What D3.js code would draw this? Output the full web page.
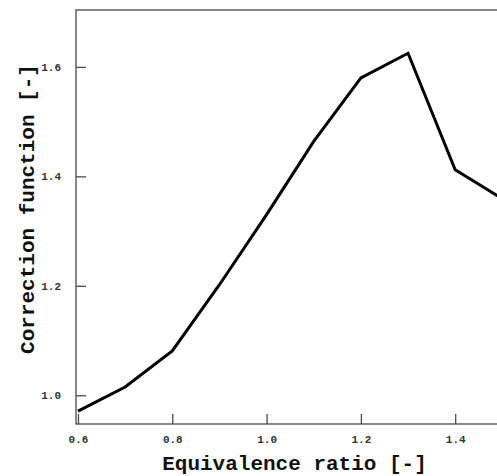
<!DOCTYPE html>
<html><head><meta charset="utf-8">
<script src="https://cdn.jsdelivr.net/npm/d3@7"></script>
<style>body{margin:0;background:#fff}svg{display:block}</style>
</head><body>
<script>
const phi = [0.6, 0.7, 0.8, 0.9, 1.0, 1.1, 1.2, 1.3, 1.4, 1.5];
const corr = [0.971, 1.015, 1.081, 1.202, 1.330, 1.464, 1.580, 1.625, 1.412, 1.359];
const xTicks = [0.6, 0.8, 1.0, 1.2, 1.4];
const yTicks = [1.0, 1.2, 1.4, 1.6];

const W = 497, H = 476;
const mL = 76, mR = 513, mT = 10, mB = 424;
const svg = d3.select("body").append("svg").attr("width", W).attr("height", H);
const x = d3.scaleLinear().domain([0.5958, 1.5226]).range([mL, mR]);
const y = d3.scaleLinear().domain([0.9475, 1.704]).range([mB, mT]);
const font = "'Liberation Mono','Courier New',monospace";

// frame
svg.append("rect").attr("x", mL).attr("y", mT).attr("width", mR-mL).attr("height", mB-mT)
  .attr("fill", "none").attr("stroke", "#4a4a4a").attr("stroke-width", 1.3);

const xa = svg.append("g").attr("transform", `translate(0,${mB})`)
  .call(d3.axisBottom(x).tickValues(xTicks).tickSizeInner(-10).tickSizeOuter(0).tickPadding(11).tickFormat(d3.format(".1f")));
const ya = svg.append("g").attr("transform", `translate(${mL},0)`)
  .call(d3.axisLeft(y).tickValues(yTicks).tickSizeInner(-10).tickSizeOuter(0).tickPadding(15).tickFormat(d3.format(".1f")));
[xa, ya].forEach(a => {
  a.select(".domain").remove();
  a.selectAll(".tick line").attr("stroke", "#4a4a4a").attr("stroke-width", 1.3);
  a.selectAll(".tick text").attr("font-family", font).attr("font-weight", "bold").attr("font-size", 11).attr("fill", "#333");
});

const line = d3.line().x((d,i) => x(phi[i])).y(d => y(d));
svg.append("path").datum(corr).attr("d", line).attr("fill", "none")
  .attr("stroke", "#000").attr("stroke-width", 3).attr("stroke-linejoin", "miter");

svg.append("text").attr("x", (mL+mR)/2).attr("y", 470).attr("text-anchor", "middle")
  .attr("font-family", font).attr("font-weight", "bold").attr("font-size", 21).attr("fill", "#111")
  .text("Equivalence ratio [-]");
svg.append("text").attr("transform", `translate(34,209) rotate(-90)`).attr("text-anchor", "middle")
  .attr("font-family", font).attr("font-weight", "bold").attr("font-size", 21).attr("fill", "#111")
  .text("Correction function [-]");
</script>
</body></html>
